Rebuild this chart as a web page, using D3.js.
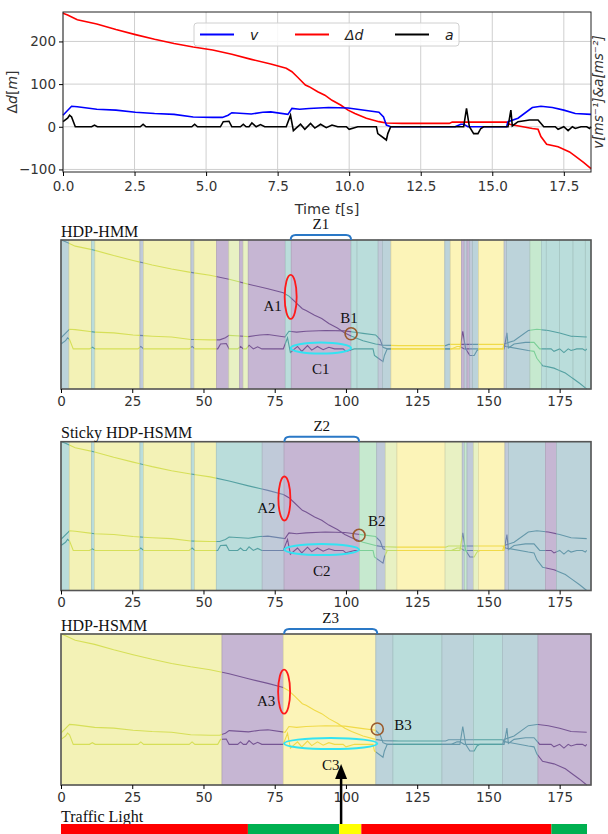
<!DOCTYPE html>
<html>
<head>
<meta charset="utf-8">
<script src="https://cdn.jsdelivr.net/npm/d3@7"></script>
<style>
  body { margin: 0; background: #fff; }
  svg { display: block; }
  .tick text { font-family: "DejaVu Sans", sans-serif; fill: #333; }
  .serif { font-family: "Liberation Serif", "Times New Roman", serif; fill: #111; }
</style>
</head>
<body>
<svg id="chart" width="608" height="834"></svg>
<script>
// ---- data ----
// distance to the light, delta d [m]
const distTime = [0,0.16,0.5,1.18,1.85,2.53,3.2,3.88,4.55,5.23,5.9,6.58,7.26,7.8,8.0,8.2,8.47,8.6,8.9,9.15,9.4,9.7,9.96,10.2,10.6,11.04,11.3,11.85,13.5,13.6,15.5,15.6,16.4,16.6,16.7,16.9,17.3,17.7,17.9,18.2,18.45];
const distVals = [266,262,251,241,228,216,205,195,187,180,170,158,147,137,129,116,98,94,82,74,62,51,39,31,20,12,9,8,8,11,11,6,-4,-6,-23,-41,-47,-59,-69,-84,-98];
// speed v (plotted in the same units as the picture shows)
const speedTime = [0,0.3,0.5,1.18,1.85,2.53,3.2,3.88,4.55,5.23,5.57,5.77,5.9,6.58,6.98,7.26,7.86,8.0,8.27,8.6,9.28,9.96,10.6,11.04,11.2,11.3,11.45,13.7,13.9,14.0,14.15,15.5,15.55,15.9,16.4,16.7,17.1,17.5,17.9,18.45];
const speedVals = [27,48,47,41,39,34,31,29,23,22,22,27,33,30,34,35,29,43,41,43,45,44,38,34,23,4,0,0,6,6,0,0,12,20,45,48,45,39,31,29];
// acceleration a
const accTime = [0,0.16,0.23,0.3,0.43,1.0,1.1,1.2,2.7,2.8,2.9,4.5,4.6,4.7,5.5,5.6,5.8,5.9,6.2,6.3,6.4,6.5,6.6,6.75,6.9,7.05,7.8,7.95,8.05,8.3,8.45,8.65,8.8,9.0,9.2,9.4,9.6,9.9,10.0,10.3,10.95,11.0,11.3,11.35,11.45,14.0,14.1,14.2,14.35,14.5,14.6,14.7,15.55,15.65,15.7,15.9,16.3,16.6,16.8,17.2,17.3,17.5,17.65,17.8,17.9,18.1,18.3,18.4,18.45];
const accVals = [12,20,27,23,0,0,4,0,0,6,0,0,6,0,0,12,13,0,0,6,0,0,9,0,5,0,0,27,-9,6,-6,8,-3,6,-2,4,0,0,-6,0,0,-16,-31,-16,0,0,43,0,-16,-16,-4,0,0,39,2,12,16,16,0,0,-6,0,-9,0,-4,0,0,-4,0];

const timeTicks = [0,2.5,5,7.5,10,12.5,15,17.5];
const distTicks = [-100,0,100,200];
const sampleTicks = [0,25,50,75,100,125,150,175];

// segmentation results: [start sample, state]
const hmmSegments = [[0,"B2"],[2.8,"Y"],[10.7,"T"],[11.9,"Y"],[27.7,"B1"],[28.9,"Y"],[45.6,"B1"],[46.7,"Y"],[54.6,"P"],[58.9,"L"],[62.7,"P"],[63.9,"L"],[65.7,"P"],[78.7,"T"],[80.8,"P"],[101.8,"T"],[103.9,"T"],[111.3,"B1"],[112.8,"B2"],[115.8,"Y2"],[134.7,"B2"],[136.6,"Y2"],[140.5,"P"],[141.5,"B1"],[142.5,"P"],[143.3,"B1"],[144.4,"B2"],[146.5,"Y2"],[155.5,"B1"],[156.4,"B2"],[164.6,"G"],[168.6,"T"],[170.3,"T"],[175,"T"],[179.7,"T"],[184,"T"]];
const stickySegments = [[0,"T"],[2.9,"Y"],[10.7,"T"],[11.7,"Y"],[27.7,"T"],[28.9,"Y"],[45.7,"T"],[46.9,"Y"],[54.5,"T"],[70.6,"B1"],[78.3,"P"],[104.7,"G"],[110.8,"B1"],[113.8,"L"],[117.9,"Y2"],[134.8,"L"],[140.8,"B1"],[141.6,"G"],[142.5,"B1"],[144.7,"L"],[146.5,"Y2"],[155.8,"B1"],[157.1,"B2"],[170,"P"],[173.9,"B2"]];
const hsmmSegments = [[0,"Y"],[56.5,"P"],[78,"Y2"],[110.5,"B2"],[116.5,"T"],[133.7,"B2"],[144.8,"T"],[154.9,"B2"],[167.4,"P"]];
const panelNames = ["HDP-HMM", "Sticky HDP-HSMM", "HDP-HSMM"];
const zoneRanges = [[80.6,101.8],[78.4,104.6],[78.3,111]];
const zoneNames = ["1","2","3"];

// traffic light phases [start sample, colour]
const lightPhases = [[0,"red"],[65.6,"green"],[97.6,"yellow"],[105.4,"red"],[172.1,"green"]];
const lightEnd = 184.6;

// ---- drawing ----
const svg = d3.select("#chart");
const stateFill = {Y:"#f3f2b6", Y2:"#fcf4b8", P:"#c6b6d3", T:"#badddb", B1:"#c0cad9", B2:"#bcd3da", G:"#c6e9cf", L:"#e8f1c3"};
const stateLine = {Y:"#d6df58", Y2:"#f0da48", P:"#765593", T:"#55a1a2", B1:"#6f84aa", B2:"#6598aa", G:"#7ccf98", L:"#c3dd6a"};
const lightColor = {red:"#ff0000", green:"#00b050", yellow:"#ffff00"};

const dist = distTime.map((t, i) => ({t, y: distVals[i]}));
const speed = speedTime.map((t, i) => ({t, y: speedVals[i]}));
const acc = accTime.map((t, i) => ({t, y: accVals[i]}));

// top chart
const tm = {left: 63, right: 591, top: 12, bottom: 172};
const xT = d3.scaleLinear().domain([0, 18.45]).range([tm.left, tm.right]);
const yT = d3.scaleLinear().domain([-106, 269]).range([tm.bottom, tm.top]);
const topG = svg.append("g");

topG.append("g").selectAll("line").data(timeTicks).join("line")
  .attr("x1", d => xT(d)).attr("x2", d => xT(d))
  .attr("y1", tm.top).attr("y2", tm.bottom)
  .attr("stroke", "#cfcfcf").attr("stroke-width", 1);
topG.append("g").selectAll("line").data(distTicks).join("line")
  .attr("x1", tm.left).attr("x2", tm.right)
  .attr("y1", d => yT(d)).attr("y2", d => yT(d))
  .attr("stroke", "#cfcfcf").attr("stroke-width", 1);

const lineT = d3.line().x(d => xT(d.t)).y(d => yT(d.y));
const topSeries = [[dist, "#ff0000"], [speed, "#0000ff"], [acc, "#000000"]];
topSeries.forEach(([data, col]) => {
  topG.append("path").datum(data).attr("d", lineT)
    .attr("fill", "none").attr("stroke", col).attr("stroke-width", 1.6);
});

topG.append("rect")
  .attr("x", tm.left).attr("y", tm.top)
  .attr("width", tm.right - tm.left).attr("height", tm.bottom - tm.top)
  .attr("fill", "none").attr("stroke", "#222").attr("stroke-width", 1);

const xAxisT = topG.append("g").attr("transform", `translate(0,${tm.bottom})`)
  .call(d3.axisBottom(xT).tickValues(timeTicks).tickFormat(d3.format(".1f")).tickSize(4).tickPadding(5));
xAxisT.select(".domain").remove();
xAxisT.selectAll("text").attr("font-size", 13.5);
const yAxisT = topG.append("g").attr("transform", `translate(${tm.left},0)`)
  .call(d3.axisLeft(yT).tickValues(distTicks).tickFormat(d => d < 0 ? "\u2212" + Math.abs(d) : d).tickSize(4).tickPadding(3));
yAxisT.select(".domain").remove();
yAxisT.selectAll("text").attr("font-size", 13.5);

const tLabel = topG.append("text")
  .attr("x", (tm.left + tm.right) / 2).attr("y", 214)
  .attr("text-anchor", "middle").attr("font-size", 14.5)
  .attr("font-family", "DejaVu Sans").attr("fill", "#333");
tLabel.append("tspan").text("Time ");
tLabel.append("tspan").attr("font-style", "italic").text("t");
tLabel.append("tspan").text("[s]");

const dLabel = topG.append("text")
  .attr("transform", `translate(17,${(tm.top + tm.bottom) / 2}) rotate(-90)`)
  .attr("text-anchor", "middle").attr("font-size", 14)
  .attr("font-family", "DejaVu Sans").attr("fill", "#333");
dLabel.append("tspan").text("\u0394");
dLabel.append("tspan").attr("font-style", "italic").text("d");
dLabel.append("tspan").text("[");
dLabel.append("tspan").attr("font-style", "italic").text("m");
dLabel.append("tspan").text("]");

topG.append("text")
  .attr("transform", `translate(603,${(tm.top + tm.bottom) / 2}) rotate(-90)`)
  .attr("text-anchor", "middle").attr("font-size", 13.5)
  .attr("font-family", "DejaVu Sans").attr("font-style", "italic").attr("fill", "#333")
  .text("v[ms\u207B\u00B9]&a[ms\u207B\u00B2]");

// legend
const legend = topG.append("g");
legend.append("rect").attr("x", 194).attr("y", 23).attr("width", 265).attr("height", 23)
  .attr("rx", 3).attr("fill", "#fff").attr("fill-opacity", 0.85)
  .attr("stroke", "#d0d0d0");
const legendItems = [["v", "#0000ff", 200], ["\u0394d", "#ff0000", 295], ["a", "#000000", 395]];
legendItems.forEach(([lab, col, x0]) => {
  legend.append("line").attr("x1", x0).attr("x2", x0 + 34).attr("y1", 34.5).attr("y2", 34.5)
    .attr("stroke", col).attr("stroke-width", 1.8);
  legend.append("text").attr("x", x0 + 50).attr("y", 39.5)
    .attr("font-family", "DejaVu Sans").attr("font-size", 14).attr("font-style", "italic")
    .attr("fill", "#222").text(lab);
});

// segmentation panels
const panelTops = [240, 441.7, 634];
const panelBottoms = [389, 590.5, 785];
const segmentSets = [hmmSegments, stickySegments, hsmmSegments];
const xP = d3.scaleLinear().domain([0, 186]).range([61, 591]);
const allVals = distVals.concat(speedVals, accVals);
const defs = svg.append("defs");

segmentSets.forEach((segs, p) => {
  const top = panelTops[p], bottom = panelBottoms[p];
  const yP = d3.scaleLinear().domain(d3.extent(allVals)).range([bottom, top]);
  const g = svg.append("g");
  const segData = segs.map((s, i) => ({
    start: s[0], end: i < segs.length - 1 ? segs[i + 1][0] : 186, state: s[1]
  }));

  g.selectAll("rect.seg").data(segData).join("rect").attr("class", "seg")
    .attr("x", d => xP(d.start)).attr("y", top)
    .attr("width", d => xP(d.end) - xP(d.start)).attr("height", bottom - top)
    .attr("fill", d => stateFill[d.state])
    .attr("stroke", d => d3.color(stateFill[d.state]).darker(0.35))
    .attr("stroke-width", 0.7);

  const lineP = d3.line().x(d => xP(d.t * 10)).y(d => yP(d.y));
  segData.forEach((s, i) => {
    const id = `clip-${p}-${i}`;
    defs.append("clipPath").attr("id", id).append("rect")
      .attr("x", xP(s.start)).attr("y", top - 2)
      .attr("width", xP(s.end) - xP(s.start)).attr("height", bottom - top + 4);
    [dist, speed, acc].forEach(series => {
      g.append("path").datum(series).attr("d", lineP)
        .attr("clip-path", `url(#${id})`)
        .attr("fill", "none").attr("stroke", stateLine[s.state]).attr("stroke-width", 1.1);
    });
  });

  g.append("rect").attr("x", 61).attr("y", top)
    .attr("width", 530).attr("height", bottom - top)
    .attr("fill", "none").attr("stroke", "#555").attr("stroke-width", 1.6);

  const ax = g.append("g").attr("transform", `translate(0,${bottom})`)
    .call(d3.axisBottom(xP).tickValues(sampleTicks).tickSize(4).tickPadding(3));
  ax.select(".domain").remove();
  ax.selectAll("text").attr("font-size", 13.5);

  g.append("text").attr("class", "serif")
    .attr("x", 61).attr("y", top - 9).attr("dominant-baseline", "central")
    .attr("font-size", 16).text(panelNames[p]);

  // annotations: zone brace, A/B/C marks
  const [z0, z1] = zoneRanges[p];
  const bx0 = xP(z0), bx1 = xP(z1), by = top - 5;
  g.append("path")
    .attr("d", `M${bx0},${top}Q${bx0},${by} ${bx0 + 5},${by}L${bx1 - 5},${by}Q${bx1},${by} ${bx1},${top}`)
    .attr("fill", "none").attr("stroke", "#2a78c6").attr("stroke-width", 2);
  g.append("text").attr("class", "serif").attr("x", (bx0 + bx1) / 2).attr("y", by - 11)
    .attr("text-anchor", "middle").attr("dominant-baseline", "central")
    .attr("font-size", 15).text("Z" + zoneNames[p]);

  const ax0 = xP(z0), ay = yP(127);
  g.append("ellipse").attr("cx", ax0).attr("cy", ay).attr("rx", 6).attr("ry", 22)
    .attr("fill", "none").attr("stroke", "#ff1a1a").attr("stroke-width", 1.8);
  g.append("text").attr("class", "serif").attr("x", ax0 - 18).attr("y", ay + 9)
    .attr("text-anchor", "middle").attr("dominant-baseline", "central")
    .attr("font-size", 15).text("A" + zoneNames[p]);

  const bxc = xP(z1), byc = yP(37);
  g.append("circle").attr("cx", bxc).attr("cy", byc).attr("r", 6)
    .attr("fill", "none").attr("stroke", "#9a5a2c").attr("stroke-width", 1.6);
  const bOff = [[-2, -16], [13, -14], [21, -4]][p];
  g.append("text").attr("class", "serif").attr("x", bxc + bOff[0]).attr("y", byc + bOff[1])
    .attr("text-anchor", p === 0 ? "middle" : "start").attr("dx", p === 0 ? 0 : -4)
    .attr("dominant-baseline", "central")
    .attr("font-size", 15).text("B" + zoneNames[p]);

  const cy = yP(2);
  g.append("ellipse").attr("cx", (xP(z0) + xP(z1)) / 2).attr("cy", cy)
    .attr("rx", (xP(z1) - xP(z0)) / 2).attr("ry", 5.5)
    .attr("fill", "none").attr("stroke", "#33e3f2").attr("stroke-width", 2);
  g.append("text").attr("class", "serif").attr("x", (xP(z0) + xP(z1)) / 2).attr("y", cy + 21)
    .attr("text-anchor", "middle").attr("dominant-baseline", "central")
    .attr("font-size", 15).text("C" + zoneNames[p]);
});

// traffic light bar
const barTop = 824;
svg.append("text").attr("class", "serif").attr("x", 61).attr("y", 816)
  .attr("dominant-baseline", "central").attr("font-size", 16).text("Traffic Light");
const phases = lightPhases.map((ph, i) => ({
  start: ph[0], end: i < lightPhases.length - 1 ? lightPhases[i + 1][0] : lightEnd, col: ph[1]
}));
svg.append("g").selectAll("rect").data(phases).join("rect")
  .attr("x", d => xP(d.start)).attr("y", barTop)
  .attr("width", d => xP(d.end) - xP(d.start)).attr("height", 11)
  .attr("fill", d => lightColor[d.col]);

// arrow from the start of the yellow phase up into the HDP-HSMM panel
const arrowX = xP(lightPhases[2][0] + 0.7);
const tipY = 764;
svg.append("line").attr("x1", arrowX).attr("x2", arrowX)
  .attr("y1", barTop).attr("y2", tipY + 12)
  .attr("stroke", "#000").attr("stroke-width", 2.5);
svg.append("path")
  .attr("d", `M${arrowX},${tipY}L${arrowX - 6},${tipY + 15}L${arrowX + 6},${tipY + 15}Z`)
  .attr("fill", "#000");
</script>
</body>
</html>
